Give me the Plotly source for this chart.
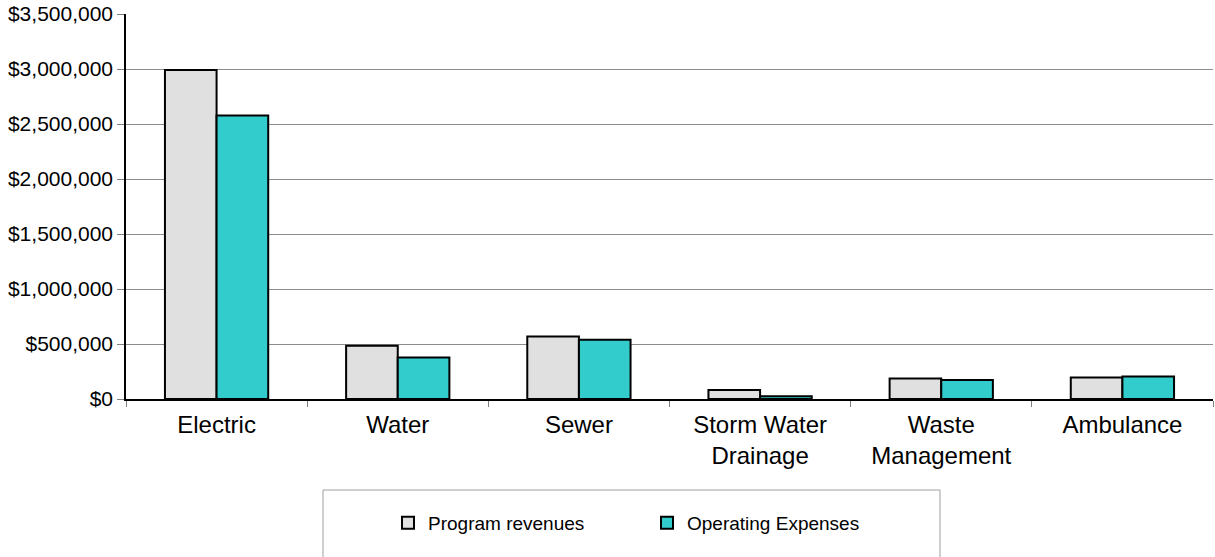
import plotly.graph_objects as go

categories = ["Electric", "Water", "Sewer", "Storm Water<br>Drainage", "Waste<br>Management", "Ambulance"]
program_revenues = [2990000, 485000, 569000, 82000, 187000, 196000]
operating_expenses = [2578000, 378000, 539000, 24000, 173000, 205000]

FONT = "Liberation Sans, Arial, sans-serif"

fig = go.Figure()
fig.add_trace(go.Bar(
    x=categories, y=program_revenues, name="Program revenues",
    marker=dict(color="#E0E0E0", line=dict(color="#000000", width=2)),
))
fig.add_trace(go.Bar(
    x=categories, y=operating_expenses, name="Operating Expenses",
    marker=dict(color="#33CCCC", line=dict(color="#000000", width=2)),
))

L, R, T, B = 126, 2, 14, 158
W, H = 1215, 557
pw = W - L - R
ph = H - T - B

def px_x(x):
    return (x - L) / pw

def px_y(y):
    return (H - B - y) / ph

fig.update_layout(
    width=W, height=H,
    margin=dict(l=L, r=R, t=T, b=B, pad=0),
    paper_bgcolor="white", plot_bgcolor="white",
    barmode="group", bargap=0.43, bargroupgap=0,
    font=dict(family=FONT, color="#000000"),
    showlegend=True,
    legend=dict(
        orientation="h", x=px_x(388), xanchor="left", y=px_y(523), yanchor="middle",
        font=dict(size=19, family=FONT), bgcolor="rgba(0,0,0,0)", borderwidth=0,
        entrywidth=214, itemwidth=30,
    ),
    shapes=[dict(
        type="rect", xref="paper", yref="paper",
        x0=px_x(323), x1=px_x(940), y0=px_y(490), y1=px_y(565),
        line=dict(color="#A0A0A0", width=1), fillcolor="rgba(0,0,0,0)",
    )],
)

fig.update_xaxes(
    showline=True, linecolor="#000000", linewidth=1.5,
    ticks="outside", tickson="boundaries", ticklen=6, tickcolor="#808080",
    tickfont=dict(size=24, family=FONT), ticklabelstandoff=3,
    showgrid=False,
)
fig.update_yaxes(
    range=[0, 3500000], dtick=500000, tickformat="$,.0f",
    showline=True, linecolor="#000000", linewidth=1.5,
    ticks="outside", ticklen=7, tickcolor="#808080",
    showgrid=True, gridcolor="#8C8C8C", gridwidth=1,
    tickfont=dict(size=21, family=FONT),
    zeroline=False,
)

fig.write_html("out.html")
